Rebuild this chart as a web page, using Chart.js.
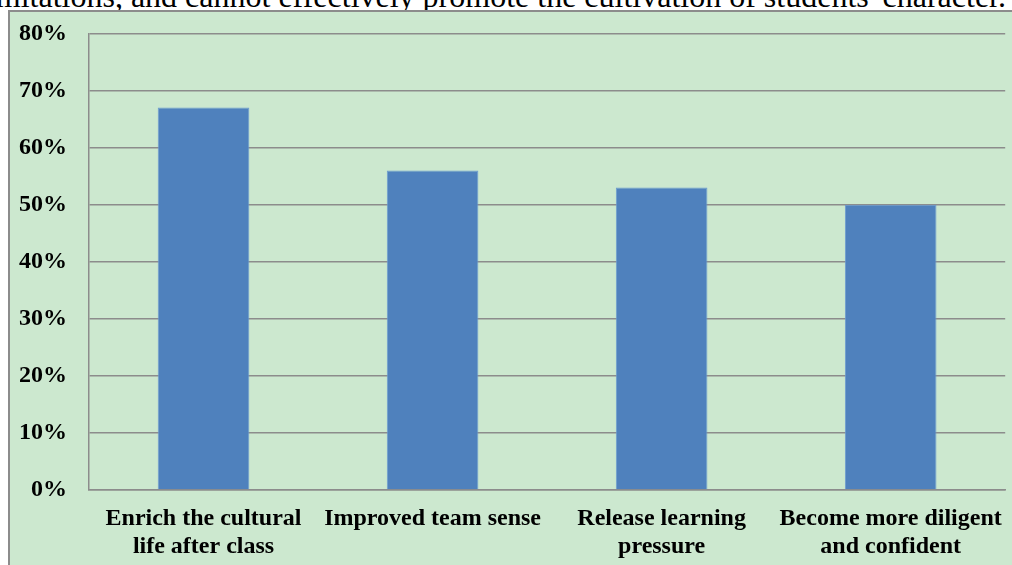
<!DOCTYPE html>
<html>
<head>
<meta charset="utf-8">
<script src="https://cdn.jsdelivr.net/npm/chart.js@4.4.0/dist/chart.umd.min.js"></script>
<style>
  body { margin: 0; background: #fff; width: 1012px; height: 565px; overflow: hidden; position: relative; }
  #above { position: absolute; left: -22px; top: -22px; font-family: "Liberation Serif", serif; font-size: 32px; white-space: nowrap; color: #000; }
  #panel { position: absolute; left: 8px; top: 10px; width: 1004px; height: 555px; background: #cce8cf; border-left: 2px solid #8c8c8c; border-top: 2px solid #8c8c8c; box-sizing: border-box; }
  #wrap { position: absolute; left: 0; top: -15px; width: 1007px; height: 566px; }
</style>
</head>
<body>
<div id="above">limitations, and cannot effectively promote the cultivation of students' character.</div>
<div id="panel"><div id="wrap"><canvas id="bar-chart"></canvas></div></div>
<script>
var categories = [
    ["Enrich the cultural", "life after class"],
    "Improved team sense",
    ["Release learning", "pressure"],
    ["Become more diligent", "and confident"]
];
var percentValues = [67, 56, 53, 50];
var yTicks = [0, 10, 20, 30, 40, 50, 60, 70, 80];

new Chart(document.getElementById("bar-chart"), {
    type: 'bar',
    data: {
        labels: categories,
        datasets: [{
            data: percentValues,
            backgroundColor: "#4f81bd",
            borderColor: "#6b9bd1",
            borderWidth: 1,
            barPercentage: 0.4,
            categoryPercentage: 1
        }]
    },
    options: {
        responsive: true,
        maintainAspectRatio: false,
        animation: false,
        layout: { padding: { top: 11, right: 2, bottom: 0, left: 0 } },
        plugins: {
            legend: { display: false },
            tooltip: { enabled: false }
        },
        scales: {
            y: {
                min: 0,
                max: 80,
                afterBuildTicks: function(axis) {
                    axis.ticks = yTicks.map(function(v) { return { value: v }; });
                },
                afterFit: function(axis) { axis.width = 79; },
                ticks: {
                    callback: function(v) { return v + "%"; },
                    color: "#000",
                    padding: 22,
                    font: { family: "Liberation Serif", size: 24, weight: "bold" }
                },
                grid: { color: "#8c8c8c", lineWidth: 1.5, drawTicks: false },
                border: { color: "#8c8c8c", width: 1.5 }
            },
            x: {
                afterFit: function(axis) { axis.height = 73; },
                ticks: {
                    color: "#000",
                    padding: 15,
                    maxRotation: 0,
                    autoSkip: false,
                    font: { family: "Liberation Serif", size: 24, weight: "bold", lineHeight: 1.17 }
                },
                grid: { display: false, drawTicks: false },
                border: { color: "#8c8c8c", width: 1.5 }
            }
        }
    }
});
</script>
</body>
</html>
